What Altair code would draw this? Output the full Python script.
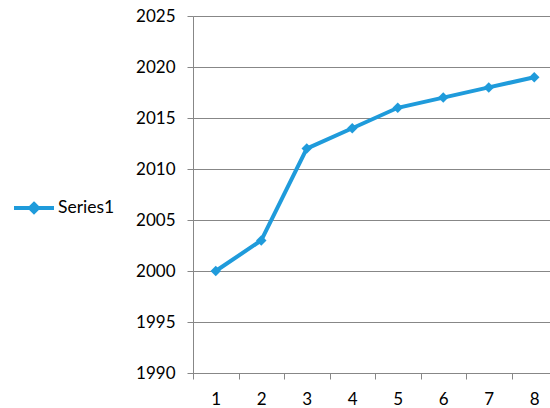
import altair as alt
import pandas as pd

categories = [1, 2, 3, 4, 5, 6, 7, 8]
series1 = [2000, 2003, 2012, 2014, 2016, 2017, 2018, 2019]
series_name = "Series1"
y_ticks = [1990, 1995, 2000, 2005, 2010, 2015, 2020, 2025]
x_label_values = [1, 2, 3, 4, 5, 6, 7, 8]
x_tick_values = [0.5, 1.5, 2.5, 3.5, 4.5, 5.5, 6.5, 7.5]

df = pd.DataFrame({"x": categories, "y": series1, "s": [series_name] * len(categories)})

BLUE = "#1F9BDB"
GRID = "#878787"
FONT = "Lato"

x_scale = alt.Scale(domain=[0.5, 8.346], nice=False, zero=False)
y_scale = alt.Scale(domain=[1990, 2025], nice=False, zero=False)

x_enc_labels = alt.X(
    "x:Q",
    scale=x_scale,
    axis=alt.Axis(
        orient="bottom",
        values=x_label_values,
        format="d",
        ticks=False,
        labelOverlap=False,
        labelFlush=False,
        grid=False,
        title=None,
        domainColor=GRID,
        labelPadding=18,
        labelFont=FONT,
        labelFontSize=17,
        labelColor="#000000",
    ),
)
x_enc_ticks = alt.X(
    "x:Q",
    scale=x_scale,
    axis=alt.Axis(
        orient="bottom",
        values=x_tick_values,
        labels=False,
        grid=False,
        title=None,
        domainColor=GRID,
        tickColor=GRID,
        tickSize=6,
    ),
)
y_axis = alt.Axis(
    values=y_ticks,
    format="d",
    grid=True,
    gridColor=GRID,
    gridWidth=1,
    title=None,
    domainColor=GRID,
    tickColor=GRID,
    tickSize=6,
    labelPadding=12,
    labelFont=FONT,
    labelFontSize=17,
    labelColor="#000000",
)

color_enc = alt.Color(
    "s:N",
    scale=alt.Scale(range=[BLUE]),
    legend=alt.Legend(
        title=None,
        orient="none",
        legendX=-181,
        legendY=170,
        symbolType="M-1,0L1,0M0,-0.2L0.2,0L0,0.2L-0.2,0Z",
        symbolSize=1600,
        symbolStrokeWidth=4,
        symbolFillColor=BLUE,
        symbolStrokeColor=BLUE,
        labelFont=FONT,
        labelFontSize=17.5,
        labelColor="#000000",
        labelOffset=2,
    ),
)

base = alt.Chart(df)
line = base.mark_line(strokeWidth=4).encode(
    x=x_enc_labels, y=alt.Y("y:Q", scale=y_scale, axis=y_axis), color=color_enc
)
pts = base.mark_point(shape="diamond", filled=True, size=110, opacity=1).encode(
    x=x_enc_ticks, y=alt.Y("y:Q", scale=y_scale, axis=y_axis), color=alt.Color("s:N", legend=None)
)

chart = (
    alt.layer(line, pts)
    .resolve_axis(x="independent")
    .properties(
        width=357,
        height=357,
        autosize=alt.AutoSizeParams(type="none"),
        padding={"left": 193, "top": 16, "right": 0, "bottom": 35},
    )
    .configure_view(stroke=None)
    .configure(background="white")
)

chart.save("out.html", embed_options={"renderer": "svg", "actions": False})
